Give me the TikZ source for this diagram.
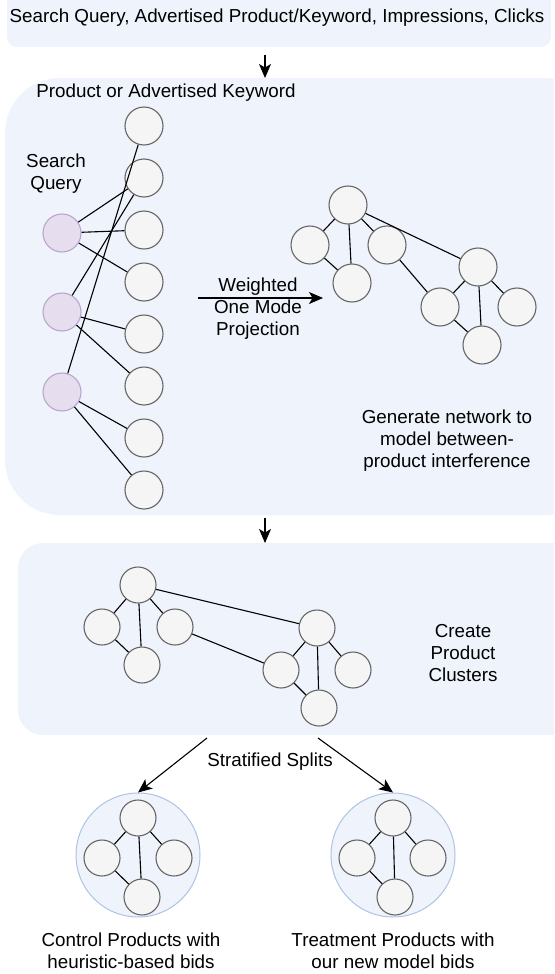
\documentclass[tikz,border=0pt]{standalone}
\usepackage{fontspec}
\setmainfont{Liberation Sans}
\usetikzlibrary{arrows.meta}
\definecolor{panelblue}{HTML}{EFF4FC}
\definecolor{nodegray}{HTML}{F5F5F5}
\definecolor{rimgray}{HTML}{666666}
\definecolor{queryfill}{HTML}{E6DDEF}
\definecolor{querydraw}{HTML}{B9A5CE}
\definecolor{ringdraw}{HTML}{AFC3E3}

\begin{document}
\begin{tikzpicture}[x=1pt, y=-1pt, font=\fontsize{18.8}{22}\selectfont]
  \tikzstyle{panel}=[fill=panelblue]
  \tikzstyle{prod}=[circle, draw=rimgray, fill=nodegray, line width=1.1pt, minimum size=38pt, inner sep=0pt]
  \tikzstyle{small}=[prod, minimum size=36pt]
  \tikzstyle{query}=[prod, draw=querydraw, fill=queryfill]
  \tikzstyle{ring}=[circle, draw=ringdraw, fill=panelblue, line width=1pt, minimum size=124pt, inner sep=0pt]
  \tikzstyle{link}=[line width=1.1pt]
  \tikzstyle{flow}=[line width=1.1pt, -{Stealth[length=14pt, width=12pt, inset=3.5pt]}]
  \tikzstyle{caption}=[align=center]

  \useasboundingbox (0,0) rectangle (554,974);
  \clip (0,0) rectangle (554,974);

  % panels
  \fill[panel, rounded corners=10pt] (7,-12) rectangle (551,47);
  \fill[panel, rounded corners=55pt] (5,78) rectangle (600,515);
  \fill[panel, rounded corners=25pt] (18,543) rectangle (600,735);

  \node (input) at (277,18) {Search Query, Advertised Product/Keyword, Impressions, Clicks};
  \coordinate (in top) at (265,55);
  \coordinate (in bot) at (265,78);
  \draw[flow] (in top) -- (in bot);

  % bipartite graph
  \node (prodlabel) at (166,93) {Product or Advertised Keyword};
  \node[caption] (querylabel) at (56,174) {Search\\Query};
  \foreach \i in {1,...,8}
    \node[prod] (p\i) at (144,{126+52*(\i-1)}) {};
  \node[query] (q1) at (62,233) {};
  \node[query] (q2) at (62,312) {};
  \node[query] (q3) at (62,392) {};
  \foreach \a/\b in {q1/p2, q1/p3, q1/p4, q2/p2, q2/p5, q2/p6, q3/p1, q3/p7, q3/p8}
    \draw[link] (\a) -- (\b);

  \coordinate (proj in) at (198,298);
  \coordinate (proj out) at (323,298);
  \draw[flow] (proj in) -- (proj out);
  \node[caption] (projlabel) at (258,309) {Weighted\\One Mode\\Projection};

  % projected network
  \node[prod] (a1) at (348,205) {};
  \node[prod] (b1) at (310,245) {};
  \node[prod] (c1) at (352,283) {};
  \node[prod] (d1) at (387,245) {};
  \node[prod] (e1) at (478,267) {};
  \node[prod] (f1) at (440,307) {};
  \node[prod] (g1) at (517,307) {};
  \node[prod] (h1) at (482,345) {};
  \foreach \a/\b in {a1/b1, a1/c1, a1/d1, b1/c1, a1/e1, d1/f1, e1/f1, e1/g1, e1/h1, f1/h1}
    \draw[link] (\a) -- (\b);
  \node[caption] (genlabel) at (447,441) {Generate network to\\model between-\\product interference};

  \coordinate (net top) at (265,518);
  \coordinate (net bot) at (265,543);
  \draw[flow] (net top) -- (net bot);

  % clusters
  \node[small] (a2) at (138,585) {};
  \node[small] (b2) at (102,627) {};
  \node[small] (c2) at (142,665) {};
  \node[small] (d2) at (175,627) {};
  \node[small] (e2) at (317,628) {};
  \node[small] (f2) at (281,670) {};
  \node[small] (g2) at (353,670) {};
  \node[small] (h2) at (319,708) {};
  \foreach \a/\b in {a2/b2, a2/c2, a2/d2, b2/c2, a2/e2, d2/f2, e2/f2, e2/g2, e2/h2, f2/h2}
    \draw[link] (\a) -- (\b);
  \node[caption] (clusterlabel) at (463,653) {Create\\Product\\Clusters};

  % splits
  \node[ring] (control) at (138,855) {};
  \node[ring] (treat) at (393,855) {};
  \coordinate (split l) at (207,738);
  \coordinate (split r) at (318,738);
  \draw[flow] (split l) -- (control.north);
  \draw[flow] (split r) -- (treat.north);
  \node (splitlabel) at (270,762) {Stratified Splits};

  \node[small] (ct) at (138,818) {};
  \node[small] (cl) at (102,858) {};
  \node[small] (cr) at (174,858) {};
  \node[small] (cb) at (142,897) {};
  \node[small] (tt) at (393,818) {};
  \node[small] (tl) at (357,858) {};
  \node[small] (tr) at (428,858) {};
  \node[small] (tb) at (395,897) {};
  \foreach \a/\b in {ct/cl, ct/cb, ct/cr, cl/cb, tt/tl, tt/tb, tt/tr, tl/tb}
    \draw[link] (\a) -- (\b);

  \node[caption] (controllabel) at (131,951) {Control Products with\\heuristic-based bids};
  \node[caption] (treatlabel) at (393,951) {Treatment Products with\\our new model bids};
\end{tikzpicture}
\end{document}
